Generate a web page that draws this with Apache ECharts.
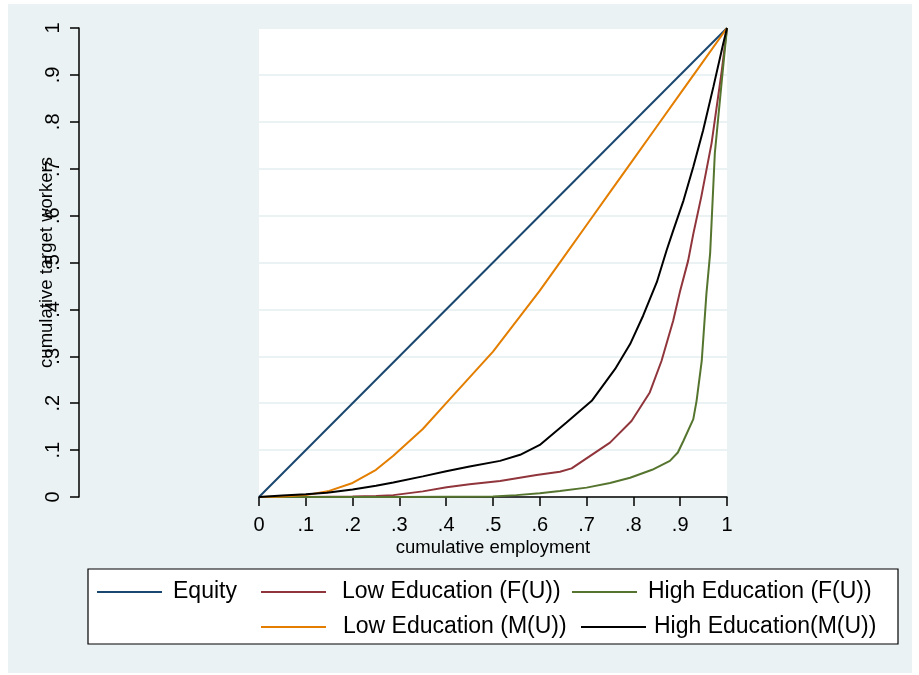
<!DOCTYPE html>
<html>
<head>
<meta charset="utf-8">
<script src="https://cdn.jsdelivr.net/npm/echarts@6/dist/echarts.min.js"></script>
<style>
html,body{margin:0;padding:0;background:#fff;}
#chart{width:919px;height:675px;}
</style>
</head>
<body>
<div id="chart"></div>
<script>
// ---- data ----
const tickLabels = ['0', '.1', '.2', '.3', '.4', '.5', '.6', '.7', '.8', '.9', '1'];

const equityX = [0, 1];
const equityY = [0, 1];

const lowFX = [0, 0.1, 0.2, 0.25, 0.287, 0.35, 0.401, 0.45, 0.515, 0.593, 0.643, 0.668, 0.75, 0.796, 0.835, 0.86, 0.885, 0.9, 0.917, 0.928, 0.945, 0.967, 0.989, 1];
const lowFY = [0, 0, 0.001, 0.002, 0.004, 0.012, 0.021, 0.027, 0.034, 0.047, 0.054, 0.061, 0.116, 0.162, 0.223, 0.29, 0.376, 0.44, 0.504, 0.561, 0.64, 0.754, 0.91, 1];

const highFX = [0, 0.3, 0.5, 0.55, 0.6, 0.643, 0.7, 0.75, 0.793, 0.84, 0.878, 0.895, 0.907, 0.928, 0.935, 0.946, 0.956, 0.964, 0.974, 0.989, 1];
const highFY = [0, 0, 0.001, 0.004, 0.008, 0.013, 0.02, 0.03, 0.041, 0.058, 0.077, 0.095, 0.12, 0.166, 0.205, 0.29, 0.433, 0.52, 0.733, 0.889, 1];

const lowMX = [0, 0.05, 0.1, 0.15, 0.2, 0.25, 0.287, 0.35, 0.4, 0.45, 0.5, 0.55, 0.6, 0.65, 0.7, 0.75, 0.8, 0.85, 0.9, 0.95, 1];
const lowMY = [0, 0.001, 0.004, 0.013, 0.03, 0.058, 0.088, 0.145, 0.2, 0.255, 0.31, 0.375, 0.44, 0.51, 0.58, 0.65, 0.72, 0.79, 0.86, 0.93, 1];

const highMX = [0, 0.05, 0.1, 0.145, 0.2, 0.25, 0.287, 0.35, 0.4, 0.45, 0.515, 0.558, 0.6, 0.657, 0.711, 0.761, 0.793, 0.821, 0.85, 0.871, 0.885, 0.907, 0.928, 0.949, 0.971, 0.992, 1];
const highMY = [0, 0.003, 0.006, 0.009, 0.016, 0.024, 0.031, 0.044, 0.055, 0.065, 0.077, 0.09, 0.111, 0.159, 0.205, 0.273, 0.326, 0.387, 0.458, 0.526, 0.568, 0.632, 0.704, 0.782, 0.875, 0.967, 1];

const seriesNames = ['Equity', 'Low Education (F(U))', 'High Education (F(U))', 'Low Education (M(U))', 'High Education(M(U))'];
const seriesColors = ['#1a476f', '#90353b', '#55752f', '#e37e00', '#000000'];
// ---- end data ----

function zip(xs, ys) { return xs.map((x, i) => [x, ys[i]]); }
const seriesData = [
  zip(equityX, equityY),
  zip(lowFX, lowFY),
  zip(highFX, highFY),
  zip(lowMX, lowMY),
  zip(highMX, highMY)
];

const FONT = "'Liberation Sans', Arial, Helvetica, sans-serif";
const chart = echarts.init(document.getElementById('chart'), null, { renderer: 'canvas' });

function mkLegend(idx, left, top, gap) {
  return {
    data: [{ name: seriesNames[idx], icon: 'rect' }],
    left: left,
    top: top,
    padding: 0,
    itemWidth: 65,
    itemHeight: 2,
    selectedMode: false,
    textStyle: { fontFamily: FONT, fontSize: 23, color: '#000', padding: [0, 0, 0, gap - 5] },
    z: 5
  };
}

const option = {
  animation: false,
  backgroundColor: '#ffffff',
  graphic: [
    { type: 'rect', z: -10, shape: { x: 8, y: 4, width: 904, height: 669 }, style: { fill: '#eaf2f3' }, silent: true },
    { type: 'rect', z: 1, shape: { x: 88, y: 569, width: 810, height: 75 }, style: { fill: '#ffffff', stroke: '#000', lineWidth: 1.2 }, silent: true }
  ],
  grid: {
    left: 259, right: 192, top: 28, bottom: 178,
    show: true, backgroundColor: '#ffffff', borderWidth: 0
  },
  legend: [
    mkLegend(0, 97, 580.5, 11),
    mkLegend(1, 261, 580.5, 16),
    mkLegend(2, 572, 580.5, 11),
    mkLegend(3, 261, 615.5, 17),
    mkLegend(4, 581, 615.5, 8)
  ],
  xAxis: {
    type: 'value', min: 0, max: 1, interval: 0.1,
    name: 'cumulative employment', nameLocation: 'middle', nameGap: 41,
    nameMoveOverlap: false,
    nameTextStyle: { fontFamily: FONT, fontSize: 18.5, color: '#000' },
    axisLine: { show: true, onZero: false, lineStyle: { color: '#000', width: 1.5 } },
    axisTick: { show: true, inside: false, length: 9, lineStyle: { color: '#000', width: 1.5 } },
    axisLabel: {
      fontFamily: FONT, fontSize: 20, color: '#000', margin: 18,
      formatter: v => tickLabels[Math.round(v * 10)]
    },
    splitLine: { show: false }
  },
  yAxis: {
    type: 'value', min: 0, max: 1, interval: 0.1,
    offset: 180,
    name: 'cumulative target workers', nameLocation: 'middle', nameGap: 23,
    nameMoveOverlap: false,
    nameTextStyle: { fontFamily: FONT, fontSize: 18.5, color: '#000' },
    axisLine: { show: true, onZero: false, lineStyle: { color: '#000', width: 1.5 } },
    axisTick: { show: true, inside: false, length: 9, lineStyle: { color: '#000', width: 1.5 } },
    axisLabel: {
      fontFamily: FONT, fontSize: 20, color: '#000', margin: 16, rotate: 90,
      formatter: v => tickLabels[Math.round(v * 10)]
    },
    splitLine: { show: true, lineStyle: { color: '#eaf2f3', width: 2 } }
  },
  series: seriesData.map((d, i) => ({
    name: seriesNames[i],
    type: 'line',
    data: d,
    symbol: 'none',
    showSymbol: false,
    smooth: false,
    color: seriesColors[i],
    lineStyle: { color: seriesColors[i], width: 2 },
    itemStyle: { color: seriesColors[i] },
    z: 2 + i
  }))
};
chart.setOption(option);
</script>
</body>
</html>
